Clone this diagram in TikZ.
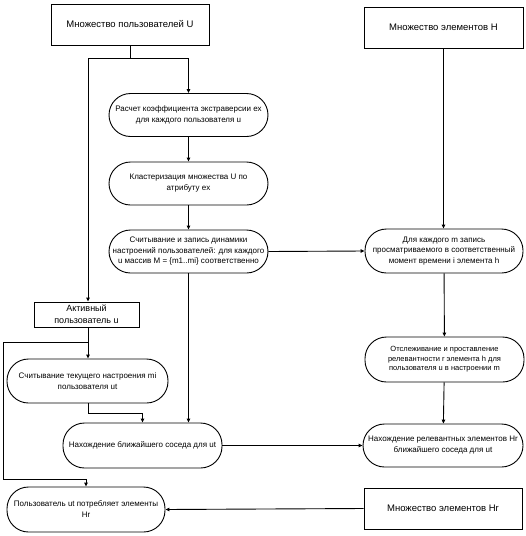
\documentclass[tikz,border=0pt]{standalone}
\usepackage{fontspec}
\setmainfont{Liberation Sans}
\usetikzlibrary{arrows.meta,calc}
\begin{document}
\begin{tikzpicture}[x=1pt,y=-1pt,
  line width=0.9pt,
  box/.style={draw, rectangle, inner sep=1pt, align=center, font=\fontsize{9.5}{12}\selectfont},
  proc/.style={draw, rectangle, rounded corners=21.5pt, inner sep=1pt, align=center, font=\fontsize{8}{11}\selectfont},
  arr/.style={-{Triangle[length=4pt,width=3.5pt]}}]
\useasboundingbox (0,0) rectangle (526,536);
\node[box, minimum width=158pt, minimum height=41pt] (U) at (130,24.5) {Множество пользователей U};
\node[box, minimum width=159pt, minimum height=41pt] (H) at (443.5,27.5) {Множество элементов H};
\node[proc, minimum width=159pt, minimum height=43pt] (b1) at (188.5,115) {Расчет коэффициента экстраверсии ex\\для каждого пользователя u};
\node[proc, minimum width=159pt, minimum height=43pt] (b2) at (188.5,183.5) {Кластеризация множества U по\\атрибуту ex};
\node[proc, minimum width=159pt, minimum height=43pt, font=\fontsize{8}{10.5}\selectfont] (b3) at (188.5,251.5) {Считывание и запись динамики\\настроений пользователей: для каждого\\u массив M = \{m1..mi\} соответственно};
\node[proc, minimum width=158pt, minimum height=44pt, font=\fontsize{8}{10.5}\selectfont] (b4) at (444,251) {Для каждого m запись\\просматриваемого в соответственный\\момент времени i элемента h};
\node[box, minimum width=105pt, minimum height=25pt, font=\fontsize{9}{12}\selectfont] (act) at (86.5,314.5) {Активный\\пользователь u};
\node[proc, minimum width=161pt, minimum height=44pt] (cur) at (87.5,381) {Считывание текущего настроения mi\\пользователя ut};
\node[proc, minimum width=159pt, minimum height=45pt, font=\fontsize{7.5}{9.5}\selectfont] (b5) at (444.5,359.5) {Отслеживание и проставление\\релевантности r элемента h для\\пользователя u в настроении m};
\node[proc, minimum width=159pt, minimum height=45pt] (near) at (142.5,445.5) {Нахождение ближайшего соседа для ut};
\node[proc, minimum width=160pt, minimum height=43pt] (rel) at (443,445.5) {Нахождение релевантных элементов Hr\\ближайшего соседа для ut};
\node[proc, minimum width=158pt, minimum height=45pt] (cons) at (86,509.5) {Пользователь ut потребляет элементы\\Hr};
\node[box, minimum width=158pt, minimum height=41pt] (Hr) at (443,508.5) {Множество элементов Hr};
\coordinate (j0) at (130,58);
\coordinate (j1) at (88,58);
\coordinate (j2) at (88,342);
\coordinate (j3) at (3,342);
\coordinate (j4) at (3,479);
\coordinate (j5) at (88,413);
\draw[arr] (U.south) -- (j0) -| (b1.north);
\draw[arr] (j0) -- (j1) -- (j1 |- act.north);
\draw[arr] (b1) -- (b2);
\draw[arr] (b2) -- (b3);
\draw[arr] (b3.east) -- (b4.west);
\draw[arr] (H.south) -- (H.south |- b4.north);
\draw[arr] (b4) -- (b5);
\draw[arr] (b5) -- (rel);
\draw[arr] (j2 |- act.south) -- (j2 |- cur.north);
\draw (j2) -- (j3) -- (j4);
\draw[arr] (j4) -| (cons.north);
\draw[arr] (j5 |- cur.south) -- (j5) -| (near.north);
\draw[arr] (b3.south) -- (b3.south |- near.north);
\draw[arr] (near.east) -- (rel.west);
\draw[arr] (Hr.west) -- (cons.east);
\end{tikzpicture}
\end{document}
